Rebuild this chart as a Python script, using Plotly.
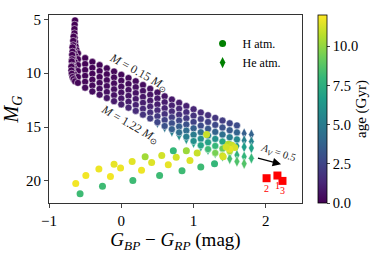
import plotly.graph_objects as go

# ---------------- DATA ----------------
# colour grid of the H-atmosphere cooling tracks (after the hot vertical part)
track_bp_rp = [-0.6, -0.5, -0.4, -0.3, -0.2, -0.1, 0.0, 0.1, 0.2, 0.3, 0.4, 0.5,
               0.6, 0.7, 0.8, 0.9, 1.0, 1.1, 1.2, 1.3, 1.4, 1.5, 1.6]

# track 1 : M = 0.15 Msun
h1_hot_x = [-0.64, -0.645, -0.648, -0.648, -0.645, -0.64, -0.632, -0.62]
h1_hot_mg = [5.1, 5.5, 5.9, 6.3, 6.7, 7.1, 7.5, 7.85]
h1_hot_age = [0.0, 0.0, 0.01, 0.01, 0.02, 0.02, 0.03, 0.04]
h1_mg = [8.15, 8.6, 8.95, 9.25, 9.55, 9.85, 10.15, 10.45, 10.75, 11.1, 11.45, 11.8,
         12.15, 12.45, 12.75, 13.05, 13.35, 13.65, 13.9, 14.15, 14.4, 14.65, 14.85]
h1_age = [0.05, 0.08, 0.1, 0.13, 0.16, 0.2, 0.25, 0.3, 0.35, 0.42, 0.5, 0.6,
          0.7, 0.8, 0.95, 1.1, 1.3, 1.5, 1.7, 1.9, 2.2, 2.5, 2.8]

# track 2
h2_hot_x = [-0.66, -0.665, -0.665, -0.66, -0.65, -0.63]
h2_hot_mg = [6.6, 7.0, 7.4, 7.8, 8.15, 8.45]
h2_hot_age = [0.01, 0.01, 0.02, 0.02, 0.03, 0.04]
h2_mg = [8.7, 9.15, 9.5, 9.8, 10.1, 10.4, 10.7, 11.0, 11.3, 11.65, 12.0, 12.35,
         12.7, 13.0, 13.3, 13.62, 13.94, 14.26, 14.53, 14.8, 15.05, 15.3, 15.5]
h2_age = [0.05, 0.08, 0.11, 0.15, 0.2, 0.25, 0.3, 0.37, 0.45, 0.55, 0.65, 0.8,
          0.95, 1.1, 1.3, 1.55, 1.8, 2.1, 2.4, 2.7, 3.0, 3.4, 3.8]

# track 3
h3_hot_x = [-0.675, -0.675, -0.67, -0.66, -0.64]
h3_hot_mg = [7.6, 8.0, 8.4, 8.75, 9.0]
h3_hot_age = [0.01, 0.02, 0.02, 0.03, 0.04]
h3_mg = [9.25, 9.7, 10.05, 10.35, 10.65, 10.95, 11.25, 11.55, 11.85, 12.2, 12.55, 12.9,
         13.25, 13.55, 13.85, 14.19, 14.53, 14.87, 15.16, 15.45, 15.7, 15.95, 16.15]
h3_age = [0.05, 0.1, 0.14, 0.2, 0.26, 0.33, 0.4, 0.5, 0.6, 0.72, 0.85, 1.0,
          1.2, 1.45, 1.7, 2.0, 2.4, 2.8, 3.3, 3.8, 4.4, 5.0, 5.6]

# track 4
h4_hot_x = [-0.68, -0.68, -0.675, -0.665, -0.645]
h4_hot_mg = [8.3, 8.7, 9.05, 9.35, 9.6]
h4_hot_age = [0.02, 0.03, 0.04, 0.05, 0.07]
h4_mg = [9.8, 10.25, 10.6, 10.9, 11.2, 11.5, 11.8, 12.1, 12.4, 12.75, 13.1, 13.45,
         13.8, 14.1, 14.4, 14.76, 15.12, 15.48, 15.79, 16.1, 16.35, 16.6]
h4_age = [0.1, 0.15, 0.2, 0.28, 0.36, 0.45, 0.55, 0.68, 0.82, 1.0, 1.2, 1.45,
          1.75, 2.1, 2.5, 3.0, 3.6, 4.3, 5.1, 6.0, 7.0, 8.0]

# track 5
h5_hot_x = [-0.685, -0.685, -0.68, -0.665, -0.645]
h5_hot_mg = [8.9, 9.3, 9.65, 9.95, 10.15]
h5_hot_age = [0.03, 0.04, 0.06, 0.08, 0.1]
h5_mg = [10.35, 10.8, 11.15, 11.45, 11.75, 12.05, 12.35, 12.65, 12.95, 13.3, 13.65, 14.0,
         14.35, 14.65, 14.95, 15.33, 15.71, 16.09, 16.42, 16.75, 17.0, 17.25]
h5_age = [0.15, 0.22, 0.3, 0.4, 0.5, 0.62, 0.76, 0.92, 1.1, 1.35, 1.65, 2.0,
          2.4, 2.9, 3.5, 4.2, 5.0, 5.9, 6.9, 8.0, 9.2, 10.4]

# track 6 : M = 1.22 Msun
h6_hot_x = [-0.69, -0.69, -0.685, -0.675, -0.66, -0.64]
h6_hot_mg = [9.4, 9.75, 10.05, 10.35, 10.55, 10.75]
h6_hot_age = [0.05, 0.07, 0.09, 0.12, 0.15, 0.18]
h6_mg = [10.9, 11.35, 11.7, 12.0, 12.3, 12.6, 12.9, 13.2, 13.5, 13.85, 14.2, 14.55,
         14.9, 15.2, 15.5, 15.9, 16.3, 16.7, 17.05, 17.4, 17.65]
h6_age = [0.2, 0.3, 0.42, 0.55, 0.7, 0.87, 1.05, 1.27, 1.5, 1.8, 2.15, 2.55,
          3.0, 3.6, 4.3, 5.1, 6.0, 7.0, 8.2, 9.5, 10.8]

# old H-atmosphere models (blue hook, sparse time steps)
hook_bp_rp = [-0.63, -0.49, -0.31, -0.15, -0.10, -0.01, 0.15, 0.28, 0.33, 0.42, 0.56, 0.65,
              0.76, 0.90, 0.95, 1.05, 1.18, 1.41, 1.48, 1.53, 1.57, 1.50, 1.45,
              -0.57, -0.26, 0.16, 0.53, 0.84, 1.10, 1.29, 0.72]
hook_mg = [20.25, 19.5, 18.9, 19.6, 18.45, 18.8, 18.2, 19.0, 17.75, 18.3, 17.65, 18.5,
           17.8, 17.2, 18.1, 17.4, 15.7, 17.75, 16.6, 16.7, 16.9, 17.05, 16.85,
           21.2, 20.5, 19.95, 19.5, 19.05, 18.7, 18.4, 17.2]
hook_age = [11.8, 11.8, 11.7, 11.8, 11.6, 11.7, 11.5, 11.7, 10.3, 11.4, 11.2, 11.6,
            11.2, 10.2, 11.4, 11.0, 11.0, 11.3, 10.6, 11.0, 11.3, 11.6, 11.2,
            8.2, 8.2, 8.2, 8.2, 8.2, 8.2, 8.0, 8.0]

# He-atmosphere tracks (only the visible, redder part)
he_bp_rp = [0.5, 0.6, 0.7, 0.8, 0.9, 1.0, 1.1, 1.2, 1.3, 1.4, 1.5, 1.6, 1.7, 1.8]
he1_mg = [12.4, 12.75, 13.05, 13.35, 13.65, 13.95, 14.25, 14.55, 14.85, 15.1, 15.3, 15.45, 15.6, 15.7]
he1_age = [1.2, 1.4, 1.6, 1.8, 2.0, 2.2, 2.4, 2.6, 2.8, 3.0, 3.2, 3.4, 3.6, 3.8]
he2_mg = [12.95, 13.3, 13.65, 13.95, 14.25, 14.6, 14.9, 15.2, 15.5, 15.75, 15.95, 16.1, 16.25, 16.35]
he2_age = [1.8, 2.1, 2.4, 2.7, 3.0, 3.3, 3.6, 3.9, 4.2, 4.5, 4.8, 5.0, 5.2, 5.4]
he3_mg = [13.5, 13.85, 14.2, 14.55, 14.9, 15.25, 15.55, 15.85, 16.15, 16.4, 16.6, 16.75, 16.85, 16.95]
he3_age = [2.5, 2.9, 3.3, 3.7, 4.1, 4.5, 4.9, 5.3, 5.6, 5.9, 6.2, 6.4, 6.6, 6.8]
he4_mg = [14.05, 14.45, 14.8, 15.15, 15.5, 15.85, 16.2, 16.55, 16.85, 17.15, 17.4, 17.6, 17.75, 17.9]
he4_age = [3.2, 3.7, 4.2, 4.7, 5.2, 5.7, 6.1, 6.5, 6.9, 7.2, 7.5, 7.7, 7.9, 8.0]
he5_mg = [14.6, 15.0, 15.4, 15.75, 16.1, 16.45, 16.8, 17.1, 17.4, 17.7, 17.95, 18.2, 18.4]
he5_age = [4.0, 4.6, 5.2, 5.8, 6.3, 6.8, 7.2, 7.6, 7.9, 8.2, 8.4, 8.6, 8.7]

# observed objects
obj_bp_rp = [2.16, 2.01, 2.23]
obj_mg = [19.5, 19.75, 20.0]
obj_labels = ["1", "2", "3"]

# extinction vector A_V = 0.5
av_tail = [1.87, 17.85]
av_head = [2.21, 18.45]

# ---------------- FIGURE ----------------
FONT = "Liberation Serif"
fig = go.Figure()

h_tracks = [
    (h1_hot_x, h1_hot_mg, h1_hot_age, h1_mg, h1_age),
    (h2_hot_x, h2_hot_mg, h2_hot_age, h2_mg, h2_age),
    (h3_hot_x, h3_hot_mg, h3_hot_age, h3_mg, h3_age),
    (h4_hot_x, h4_hot_mg, h4_hot_age, h4_mg, h4_age),
    (h5_hot_x, h5_hot_mg, h5_hot_age, h5_mg, h5_age),
    (h6_hot_x, h6_hot_mg, h6_hot_age, h6_mg, h6_age),
]
he_tracks = [(he1_mg, he1_age), (he2_mg, he2_age), (he3_mg, he3_age),
             (he4_mg, he4_age), (he5_mg, he5_age)]

# He tracks first (underneath)
for mg, age in he_tracks:
    fig.add_trace(go.Scatter(
        x=he_bp_rp[:len(mg)], y=mg, mode="markers", showlegend=False,
        marker=dict(symbol="diamond-tall", size=8, color=age, coloraxis="coloraxis",
                    line=dict(width=0.4, color="white")),
        hoverinfo="skip"))

for hx, hmg, hage, mg, age in h_tracks:
    fig.add_trace(go.Scatter(
        x=hx + track_bp_rp[:len(mg)], y=hmg + mg, mode="markers", showlegend=False,
        marker=dict(symbol="circle", size=7, color=hage + age, coloraxis="coloraxis",
                    line=dict(width=0.5, color="white")),
        hoverinfo="skip"))

fig.add_trace(go.Scatter(
    x=hook_bp_rp, y=hook_mg, mode="markers", showlegend=False,
    marker=dict(symbol="circle", size=7, color=hook_age, coloraxis="coloraxis",
                line=dict(width=0)),
    hoverinfo="skip"))

# observed objects
fig.add_trace(go.Scatter(
    x=obj_bp_rp, y=obj_mg, mode="markers+text", text=obj_labels,
    textposition="bottom center", textfont=dict(family=FONT, size=10, color="red"),
    marker=dict(symbol="square", size=8, color="red"), showlegend=False, hoverinfo="skip"))

# legend proxies
fig.add_trace(go.Scatter(x=[None], y=[None], mode="markers", name="H atm.",
                         marker=dict(symbol="circle", size=7, color="green")))
fig.add_trace(go.Scatter(x=[None], y=[None], mode="markers", name="He atm.",
                         marker=dict(symbol="diamond-tall", size=8, color="green")))

annots = [
    dict(x=0.24, y=10.0, text="<i>M</i> = 0.15 <i>M</i><sub>⊙</sub>", textangle=29,
         showarrow=False, font=dict(family=FONT, size=12, color="#222")),
    dict(x=0.12, y=14.85, text="<i>M</i> = 1.22 <i>M</i><sub>⊙</sub>", textangle=30,
         showarrow=False, font=dict(family=FONT, size=12, color="#222")),
    dict(x=av_head[0], y=av_head[1], ax=av_tail[0], ay=av_tail[1], axref="x", ayref="y",
         xref="x", yref="y", text="", showarrow=True, arrowhead=2, arrowsize=1.4,
         arrowwidth=1.2, arrowcolor="black", standoff=0),
    dict(x=2.17, y=17.45, text="<i>A</i><sub><i>V</i></sub> = 0.5", textangle=18,
         showarrow=False, font=dict(family=FONT, size=10.5, color="#222")),
]

fig.update_layout(
    width=382, height=254,
    margin=dict(l=49, r=80, t=15, b=51, autoexpand=False),
    paper_bgcolor="white", plot_bgcolor="white",
    font=dict(family=FONT, size=14, color="black"),
    annotations=annots,
    coloraxis=dict(
        colorscale="Viridis", cmin=0, cmax=12,
        colorbar=dict(
            x=1.063, xanchor="left", y=0.5, yanchor="middle", len=1, lenmode="fraction",
            thickness=9, xpad=0, ypad=0, outlinewidth=0.8, outlinecolor="black",
            ticks="outside", ticklen=3, tickvals=[0, 2.5, 5, 7.5, 10],
            ticktext=["0.0", "2.5", "5.0", "7.5", "10.0"],
            tickfont=dict(family=FONT, size=14.5),
            title=dict(text="age (Gyr)", side="right", font=dict(family=FONT, size=15)))),
    legend=dict(x=0.607, y=0.925, xanchor="left", yanchor="top", bgcolor="rgba(0,0,0,0)",
                font=dict(family=FONT, size=12), itemwidth=30, tracegroupgap=0),
    xaxis=dict(range=[-1, 2.5], tickvals=[-1, 0, 1, 2], ticks="outside", ticklen=4,
               showline=True, mirror=True, linecolor="#333", linewidth=1, showgrid=False,
               zeroline=False, tickfont=dict(size=15),
               title=dict(text="<i>G</i><sub><i>BP</i></sub> − <i>G</i><sub><i>RP</i></sub> (mag)",
                          font=dict(size=19), standoff=4)),
    yaxis=dict(range=[22.05, 4.6], tickvals=[5, 10, 15, 20], ticks="outside", ticklen=4,
               showline=True, mirror=True, linecolor="#333", linewidth=1, showgrid=False,
               zeroline=False, tickfont=dict(size=15),
               title=dict(text="<i>M</i><sub><i>G</i></sub>", font=dict(size=20), standoff=4)),
)

fig.write_html("out.html", config={"displayModeBar": False},
               post_script="document.body.style.margin='0';document.body.style.padding='0';")
